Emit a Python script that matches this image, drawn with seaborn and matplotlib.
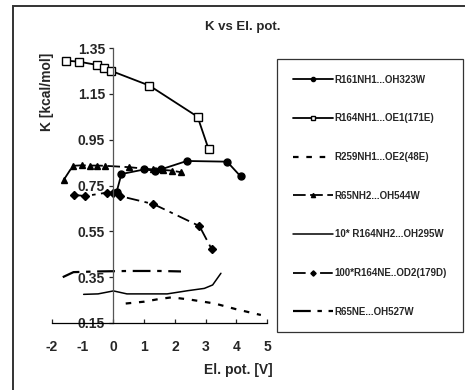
import matplotlib
matplotlib.use("Agg")
import matplotlib.pyplot as plt
import seaborn as sns
import numpy as np
from matplotlib.patches import Rectangle

# data
x_r161 = [0.1, 0.26, 1.0, 1.34, 1.54, 2.39, 3.7, 4.14]
y_r161 = [0.72, 0.80, 0.82, 0.815, 0.82, 0.857, 0.854, 0.79]

x_r164 = [-1.55, -1.11, -0.53, -0.30, -0.07, 1.17, 2.74, 3.10]
y_r164 = [1.295, 1.29, 1.276, 1.264, 1.25, 1.186, 1.05, 0.908]

x_r259 = [0.4, 1.0, 1.5, 1.9, 2.5, 3.3, 4.0, 4.8]
y_r259 = [0.235, 0.243, 0.255, 0.262, 0.252, 0.235, 0.21, 0.185]

x_r65nh2 = [-1.62, -1.32, -1.03, -0.75, -0.53, -0.28, 0.5, 1.3, 1.6, 1.9, 2.2]
y_r65nh2 = [0.774, 0.836, 0.838, 0.837, 0.837, 0.836, 0.83, 0.82, 0.818, 0.815, 0.808]

x_r164nh2 = [-0.97, -0.5, 0.0, 0.44, 1.75, 2.42, 2.96, 3.23, 3.5]
y_r164nh2 = [0.275, 0.277, 0.29, 0.277, 0.277, 0.291, 0.301, 0.316, 0.367]

x_r164ne = [-1.28, -0.92, -0.21, 0.0, 0.21, 1.3, 2.8, 3.2]
y_r164ne = [0.709, 0.704, 0.719, 0.719, 0.704, 0.669, 0.573, 0.472]

x_r65ne = [-1.65, -1.3, -0.5, 0.5, 1.5, 2.2]
y_r65ne = [0.35, 0.372, 0.375, 0.377, 0.377, 0.375]

labels = ["R161NH1...OH323W", "R164NH1...OE1(171E)", "R259NH1...OE2(48E)",
          "R65NH2...OH544W", "10* R164NH2...OH295W", "100*R164NE..OD2(179D)",
          "R65NE...OH527W"]

sns.set_style("white")
plt.rcParams['font.family'] = ['Liberation Sans', 'DejaVu Sans']
plt.rcParams['font.weight'] = 'bold'
plt.rcParams['axes.unicode_minus'] = False

W, H = 465, 390
fig = plt.figure(figsize=(W / 100, H / 100), dpi=100)
ax = fig.add_axes([52 / W, 1 - 323 / H, 215 / W, 275 / H])

series = [
    (x_r161, y_r161, dict(marker="o", markersize=5, markerfacecolor="black", linestyle="-")),
    (x_r164, y_r164, dict(marker="s", markersize=6, markerfacecolor="white", linestyle="-")),
    (x_r259, y_r259, dict(marker=None, linestyle=(0, (2.5, 3.5)), linewidth=1.6)),
    (x_r65nh2, y_r65nh2, dict(marker="^", markersize=5, markerfacecolor="black", linestyle=(0, (7, 2.5)))),
    (x_r164nh2, y_r164nh2, dict(marker=None, linestyle="-", linewidth=1.1)),
    (x_r164ne, y_r164ne, dict(marker="D", markersize=4.5, markerfacecolor="black", linestyle=(0, (7, 3, 2, 3)))),
    (x_r65ne, y_r65ne, dict(marker=None, linestyle=(0, (8, 3, 2, 3)), linewidth=1.6)),
]

for (xs, ys, kw), lab in zip(series, labels):
    kw.setdefault("linewidth", 1.3)
    sns.lineplot(x=xs, y=ys, ax=ax, color="black", sort=False, estimator=None,
                 markeredgecolor="black", markeredgewidth=1.0, label=lab, **kw)
handles = ax.get_lines()
ax.get_legend().remove()

ax.set_xlim(-2, 5)
ax.set_ylim(0.15, 1.35)
ax.set_xticks(range(-2, 6))
yt = [0.15, 0.35, 0.55, 0.75, 0.95, 1.15, 1.35]
ax.set_yticks(yt)
ax.set_yticklabels([f"{v:.2f}" for v in yt])
ax.patch.set_alpha(0)

for s in ["top", "right"]:
    ax.spines[s].set_visible(False)
ax.spines["left"].set_position(("data", 0))
ax.spines["left"].set_color("#555555")
ax.spines["bottom"].set_color("black")
ax.spines["left"].set_linewidth(0.9)
ax.spines["bottom"].set_linewidth(0.9)
ax.tick_params(axis="x", direction="in", length=3, width=0.9, pad=12, labelsize=10, bottom=True)
ax.tick_params(axis="y", direction="out", length=3, width=0.9, pad=3, labelsize=10, left=True)
for t in ax.get_xticklabels() + ax.get_yticklabels():
    t.set_fontweight("bold")

fig.text(243 / W, 1 - 27 / H, "K vs El. pot.", ha="center", va="center", fontsize=9.5, fontweight="bold")
fig.text(238 / W, 1 - 370 / H, "El. pot. [V]", ha="center", va="center", fontsize=10, fontweight="bold")
fig.text(47 / W, 1 - 92 / H, "K [kcal/mol]", ha="center", va="center", rotation=90, fontsize=10, fontweight="bold")

leg = fig.legend(handles, labels, loc="upper left",
                 bbox_to_anchor=(277 / W, 1 - 330 / H, 186 / W, 271 / H),
                 mode="expand", prop=dict(size=7, weight="bold"), frameon=True,
                 fancybox=False, edgecolor="black", borderpad=1.6, labelspacing=2.95,
                 handlelength=4.2, handletextpad=0.15, borderaxespad=0, markerscale=0.6)
leg.get_frame().set_linewidth(0.9)

# outer chart frame
fig.add_artist(Rectangle((12.5 / W, -0.05), 1.2, 1 - 6 / H + 0.05, transform=fig.transFigure,
                         fill=False, edgecolor="#333333", linewidth=1.4))

fig.savefig("out.png", dpi=100)
